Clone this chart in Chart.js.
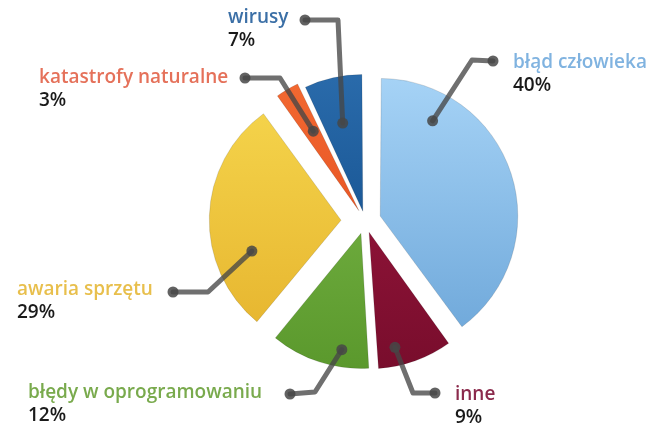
<!DOCTYPE html>
<html>
<head>
<meta charset="utf-8">
<script src="https://cdn.jsdelivr.net/npm/chart.js@4.4.1/dist/chart.umd.min.js"></script>
<style>
  body { margin: 0; background: #fff; }
  #wrap { width: 652px; height: 425px; position: relative; }
</style>
</head>
<body>
<div id="wrap"><canvas id="myChart"></canvas></div>
<script>
// Data
const categories = ['błąd człowieka', 'inne', 'błędy w oprogramowaniu', 'awaria sprzętu', 'katastrofy naturalne', 'wirusy'];
const values = [40, 9, 12, 29, 3, 7];
const percentLabels = values.map(v => v + '%');

// Styles
const topColors = ['#a6d3f6', '#9e1840', '#7dba4b', '#f6d74e', '#f36a32', '#2a6bab'];
const bottomColors = ['#6ba5d8', '#780d2c', '#5a982c', '#e5b22c', '#de451a', '#0c4784'];
const textColors = ['#80b3e0', '#8b2a4c', '#79aa4d', '#e8bf4c', '#e5715a', '#3b6fa6'];
const explode = [64, 48, 52, 96, 48, 40];

// Leader line layout: where the dot sits on the slice (fraction of angle, fraction of radius),
// then elbow, end dot and text position
const dotOnSlice = [[0.2, 0.83], [0.72, 0.9], [0.3, 0.9], [0.3, 0.72], [0.57, 0.7], [0.49, 0.69]];
const elbows = [[472, 60], [413, 393], [315, 392], [208, 292], [280, 78], [338, 20]];
const lineEnds = [[493, 61], [435, 393], [290, 394], [173, 292], [245, 78], [305, 20]];
const textPos = [[513, 63], [455, 395], [28, 393], [17, 290], [39, 78], [228, 18]];

const leaderPlugin = {
  id: 'leaders',
  afterDatasetsDraw(chart) {
    const ctx = chart.ctx;
    const meta = chart.getDatasetMeta(0);
    meta.data.forEach((arc, i) => {
      const p = arc.getProps(['x', 'y', 'startAngle', 'endAngle', 'outerRadius']);
      const off = (arc.options.offset || 0) / 4;
      const half = (p.startAngle + p.endAngle) / 2;
      const cx = p.x + Math.cos(half) * off;
      const cy = p.y + Math.sin(half) * off;
      const a = p.startAngle + dotOnSlice[i][0] * (p.endAngle - p.startAngle);
      const r = dotOnSlice[i][1] * p.outerRadius;
      const dx = cx + Math.cos(a) * r;
      const dy = cy + Math.sin(a) * r;

      ctx.save();
      ctx.strokeStyle = 'rgba(70,70,70,0.78)';
      ctx.fillStyle = 'rgba(70,70,70,0.85)';
      ctx.lineWidth = 5;
      ctx.lineCap = 'round';
      ctx.lineJoin = 'round';
      ctx.beginPath();
      ctx.moveTo(dx, dy);
      ctx.lineTo(elbows[i][0], elbows[i][1]);
      ctx.lineTo(lineEnds[i][0], lineEnds[i][1]);
      ctx.stroke();
      ctx.beginPath();
      ctx.arc(dx, dy, 5.5, 0, Math.PI * 2);
      ctx.fill();
      ctx.beginPath();
      ctx.arc(lineEnds[i][0], lineEnds[i][1], 5.5, 0, Math.PI * 2);
      ctx.fill();

      ctx.textAlign = 'left';
      ctx.textBaseline = 'middle';
      ctx.font = '600 19px "Open Sans"';
      ctx.fillStyle = textColors[i];
      ctx.fillText(categories[i], textPos[i][0], textPos[i][1]);
      ctx.fillStyle = '#1a1a1a';
      ctx.font = '600 19px "Open Sans"';
      ctx.fillText(percentLabels[i], textPos[i][0], textPos[i][1] + 23);
      ctx.restore();
    });
  }
};

function sliceGradient(context) {
  const chart = context.chart;
  const area = chart.chartArea;
  if (!area) return topColors[context.dataIndex];
  const cy = (area.top + area.bottom) / 2;
  const g = chart.ctx.createLinearGradient(0, cy - 140, 0, cy + 140);
  g.addColorStop(0, topColors[context.dataIndex]);
  g.addColorStop(1, bottomColors[context.dataIndex]);
  return g;
}

const ctx = document.getElementById('myChart').getContext('2d');
new Chart(ctx, {
  type: 'pie',
  data: {
    labels: categories,
    datasets: [{
      data: values,
      backgroundColor: sliceGradient,
      borderColor: 'rgba(0,0,0,0.12)',
      borderWidth: 1,
      offset: explode,
      hoverOffset: 0
    }]
  },
  options: {
    responsive: true,
    maintainAspectRatio: false,
    animation: false,
    radius: 131,
    layout: { padding: { left: 78, right: 0, top: 17, bottom: 0 } },
    plugins: {
      legend: { display: false },
      tooltip: { enabled: false }
    },
    events: []
  },
  plugins: [leaderPlugin]
});
</script>
</body>
</html>
